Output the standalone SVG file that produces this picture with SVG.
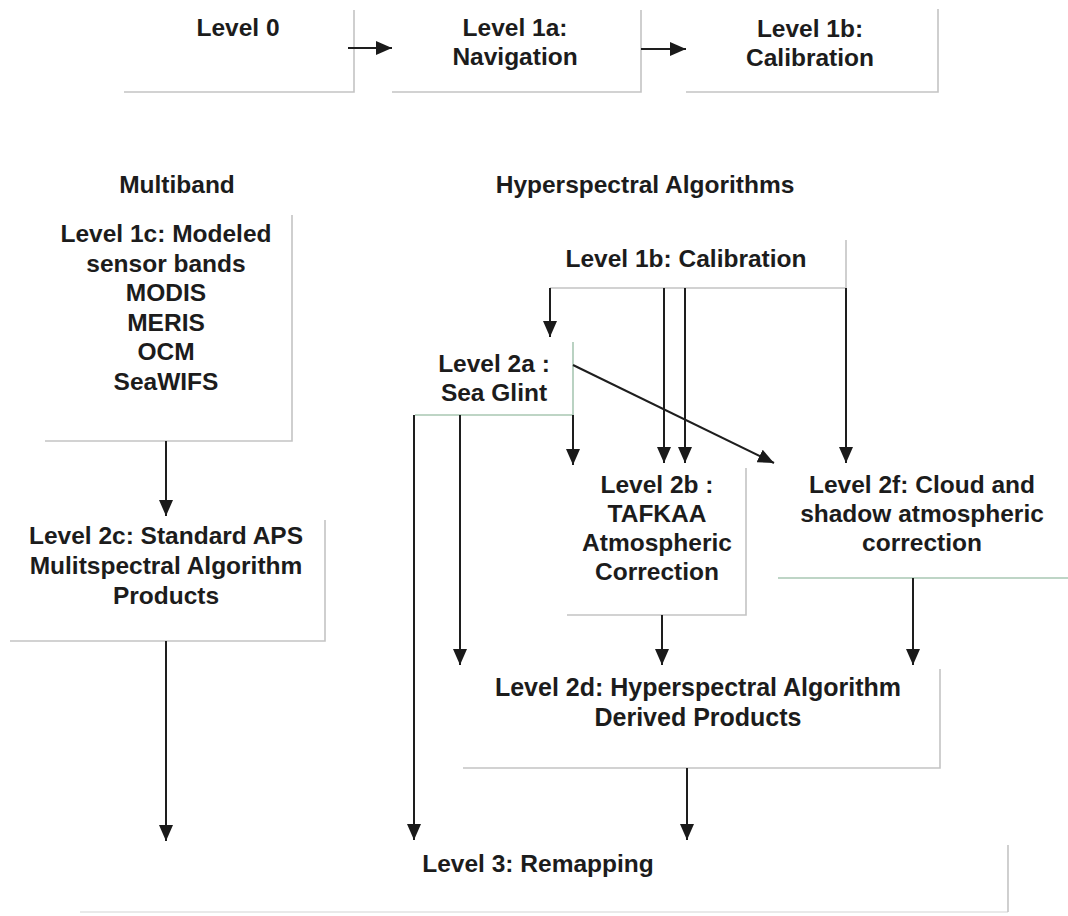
<svg xmlns="http://www.w3.org/2000/svg" width="1068" height="916" viewBox="0 0 1068 916">
<style>
  .t { font-family: "Liberation Sans", Arial, sans-serif; font-weight: bold; font-size: 24.5px; fill: #1c1c1c; text-anchor: middle; }
  .frame { fill: none; stroke: #c4c4c4; stroke-width: 1.6; }
  .frame-g { fill: none; stroke: #a9c7b3; stroke-width: 1.6; }
  .frame-f { fill: none; stroke: #e2e2e2; stroke-width: 1.4; }
  .edge { fill: none; stroke: #1e1e1e; stroke-width: 2; marker-end: url(#ah); }
</style>
<defs>
  <marker id="ah" viewBox="0 0 16 14" refX="16" refY="7" markerWidth="16" markerHeight="14" markerUnits="userSpaceOnUse" orient="auto">
    <path d="M0,0 L16,7 L0,14 z" fill="#1a1a1a"/>
  </marker>
</defs>
<rect width="1068" height="916" fill="#ffffff"/>

<g id="level0">
  <path class="frame" d="M124,92 H354 V10"/>
  <text class="t" x="238" y="36">Level 0</text>
</g>
<g id="level1a">
  <path class="frame" d="M392,92 H641 V10"/>
  <text class="t" x="515" y="36">Level 1a:</text>
  <text class="t" x="515" y="65">Navigation</text>
</g>
<g id="level1b-top">
  <path class="frame" d="M686,92 H938 V9"/>
  <text class="t" x="810" y="37">Level 1b:</text>
  <text class="t" x="810" y="66">Calibration</text>
</g>
<g id="multiband">
  <text class="t" x="177" y="193">Multiband</text>
</g>
<g id="hyperspectral">
  <text class="t" x="645" y="193">Hyperspectral Algorithms</text>
</g>
<g id="level1c">
  <path class="frame" d="M45,441 H292 V215"/>
  <text class="t" x="166" y="242">Level 1c: Modeled</text>
  <text class="t" x="166" y="272">sensor bands</text>
  <text class="t" x="166" y="301">MODIS</text>
  <text class="t" x="166" y="331">MERIS</text>
  <text class="t" x="166" y="360">OCM</text>
  <text class="t" x="166" y="390">SeaWIFS</text>
</g>
<g id="level2c">
  <path class="frame" d="M10,641 H325 V520"/>
  <text class="t" x="166" y="544">Level 2c: Standard APS</text>
  <text class="t" x="166" y="574">Mulitspectral Algorithm</text>
  <text class="t" x="166" y="604">Products</text>
</g>
<g id="level1b-mid">
  <path class="frame" d="M550,288 H846 V240"/>
  <text class="t" x="686" y="267">Level 1b: Calibration</text>
</g>
<g id="level2a">
  <path class="frame-g" d="M415,415 H573 V342"/>
  <text class="t" x="494" y="372">Level 2a :</text>
  <text class="t" x="494" y="401">Sea Glint</text>
</g>
<g id="level2b">
  <path class="frame" d="M567,615 H746 V468"/>
  <text class="t" x="657" y="493">Level 2b :</text>
  <text class="t" x="657" y="522">TAFKAA</text>
  <text class="t" x="657" y="551">Atmospheric</text>
  <text class="t" x="657" y="580">Correction</text>
</g>
<g id="level2f">
  <path class="frame-g" d="M778,578 H1068"/>
  <text class="t" x="922" y="493">Level 2f: Cloud and</text>
  <text class="t" x="922" y="522">shadow atmospheric</text>
  <text class="t" x="922" y="551">correction</text>
</g>
<g id="level2d">
  <path class="frame" d="M463,768 H940 V669"/>
  <text class="t" x="698" y="696" style="font-size:25px">Level 2d: Hyperspectral Algorithm</text>
  <text class="t" x="698" y="726" style="font-size:25px">Derived Products</text>
</g>
<g id="level3">
  <path class="frame-f" d="M80,912 H1008"/>
  <path class="frame" d="M1008,912 V845"/>
  <text class="t" x="538" y="872">Level 3: Remapping</text>
</g>

<g id="connectors">
  <path class="edge" d="M348,48 H392"/>
  <path class="edge" d="M641,49 H686"/>
  <path class="edge" d="M166,441 V516"/>
  <path class="edge" d="M166,641 V841"/>
  <path class="edge" d="M550,288 V337"/>
  <path class="edge" d="M664,288 V463"/>
  <path class="edge" d="M685,288 V463"/>
  <path class="edge" d="M846,288 V463"/>
  <path class="edge" d="M573,415 V465"/>
  <path class="edge" d="M573,365 L774,463"/>
  <path class="edge" d="M460,415 V665"/>
  <path class="edge" d="M414,415 V840"/>
  <path class="edge" d="M662,615 V665"/>
  <path class="edge" d="M913,578 V665"/>
  <path class="edge" d="M687,768 V840"/>
</g>
</svg>
